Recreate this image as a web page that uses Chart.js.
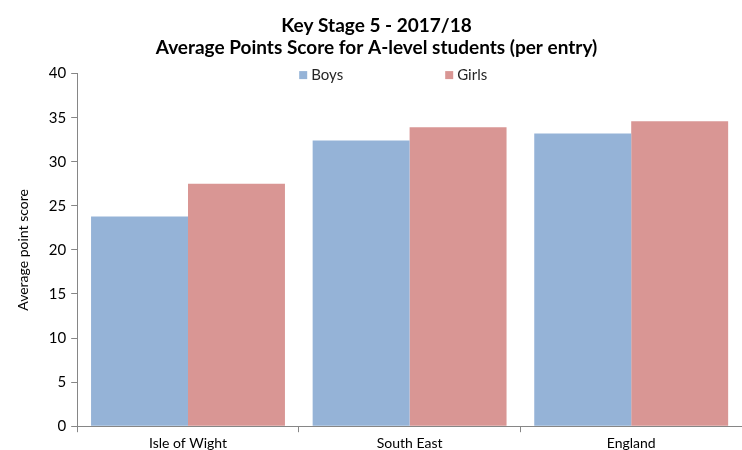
<!DOCTYPE html>
<html>
<head>
<meta charset="utf-8">
<script src="https://cdn.jsdelivr.net/npm/chart.js@4"></script>
<style>
  html, body { margin: 0; padding: 0; background: #fff; }
  #wrap { width: 742px; height: 450px; }
</style>
</head>
<body>
<div id="wrap"><canvas id="myChart"></canvas></div>
<script>
const categories = ['Isle of Wight', 'South East', 'England'];
const boys = [23.8, 32.4, 33.2];
const girls = [27.5, 33.9, 34.6];
const titleLines = ['Key Stage 5 - 2017/18', 'Average Points Score for A-level students (per entry)'];

Chart.defaults.font.family = 'Lato, "Open Sans", sans-serif';
Chart.defaults.color = '#262626';

// legend drawn inside the top of the plot area, Excel style
const insideLegend = {
  id: 'insideLegend',
  afterDraw(chart) {
    const c = chart.ctx;
    const area = chart.chartArea;
    const starts = [222, 368];
    c.save();
    c.font = '15px Lato, "Open Sans", sans-serif';
    c.textBaseline = 'middle';
    chart.data.datasets.forEach((ds, i) => {
      const x = area.left + starts[i];
      const y = area.top + 1;
      c.fillStyle = ds.backgroundColor;
      c.fillRect(x, y - 3.5, 8, 8);
      c.fillStyle = '#262626';
      c.fillText(ds.label, x + 12, y + 1);
    });
    c.restore();
  }
};

const ctx = document.getElementById('myChart');

new Chart(ctx, {
  type: 'bar',
  data: {
    labels: categories,
    datasets: [{
      label: 'Boys',
      data: boys,
      backgroundColor: '#95B3D7',
      borderWidth: 0
    }, {
      label: 'Girls',
      data: girls,
      backgroundColor: '#D99694',
      borderWidth: 0
    }]
  },
  options: {
    responsive: true,
    maintainAspectRatio: false,
    animation: false,
    layout: { padding: { left: 11, right: 0, top: 14, bottom: -5 } },
    datasets: {
      bar: { categoryPercentage: 0.875, barPercentage: 1 }
    },
    plugins: {
      title: {
        display: true,
        text: titleLines,
        font: { size: 19, weight: 'bold' },
        color: '#000',
        padding: { top: 0, bottom: 14 },
        lineHeight: 1.3
      },
      legend: { display: false },
      tooltip: { enabled: false }
    },
    scales: {
      x: {
        grid: { display: true, drawOnChartArea: false, drawTicks: true, tickLength: 6, color: '#868686' },
        border: { display: true, color: '#868686' },
        ticks: { font: { size: 14 }, color: '#000', padding: 3 }
      },
      y: {
        min: 0,
        max: 40,
        ticks: { stepSize: 5, font: { size: 15 }, color: '#000', padding: 5 },
        grid: { display: true, drawOnChartArea: false, drawTicks: true, tickLength: 6, color: '#868686' },
        border: { display: true, color: '#868686' },
        title: { display: true, text: 'Average point score', font: { size: 14 }, color: '#000', padding: { bottom: 12 } }
      }
    }
  },
  plugins: [insideLegend]
});
</script>
</body>
</html>
